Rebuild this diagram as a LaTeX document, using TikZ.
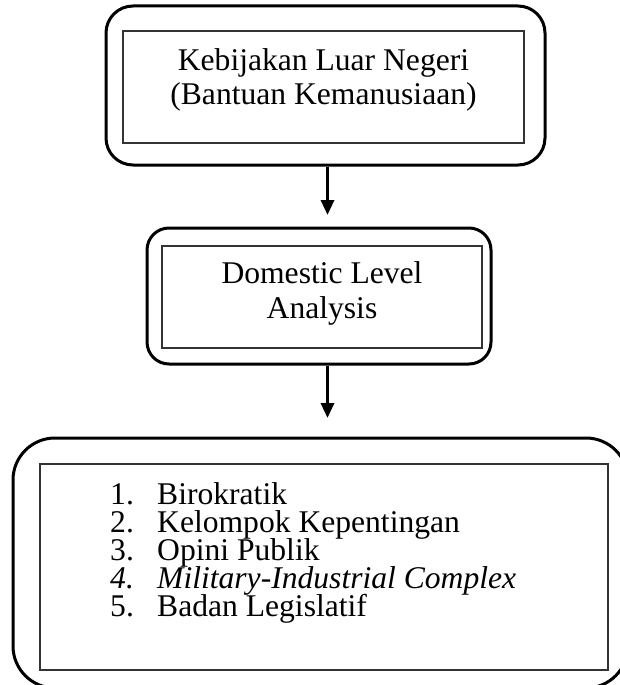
\documentclass[tikz,border=0pt]{standalone}
\usepackage{fontspec}
\setmainfont{Liberation Serif}
\usetikzlibrary{arrows.meta}

\newcommand{\jarak}{\hspace{23.3pt}}
\newcommand{\rapat}{\fontsize{31.6}{28}\selectfont\lineskiplimit=-100pt\relax}

\begin{document}
\begin{tikzpicture}[x=1pt,y=-1pt,
	every node/.style={inner sep=0pt,font=\fontsize{31.6}{33.5}\selectfont},
	outerbox/.style={draw,line width=3pt,rounded corners=#1},
	innerbox/.style={draw=black!80,line width=1.2pt},
	panah/.style={line width=3.2pt,-{Triangle[length=15pt,width=13pt]}}]
	\clip (0,0) rectangle (620,685);
	
	%outer rounded frames
	\node[outerbox=27pt,minimum width=439pt,minimum height=159pt] (luar) at (325.5,85.5) {};
	\node[outerbox=22pt,minimum width=344pt,minimum height=136pt] (domestik) at (319,296) {};
	\node[outerbox=42pt,minimum width=615pt,minimum height=250pt] (faktor) at (320.5,563) {};
	
	%inner boxes
	\node[innerbox,minimum width=401pt,minimum height=112pt] (luarIsi) at (323.5,87) {};
	\node[innerbox,minimum width=320pt,minimum height=102pt] (domestikIsi) at (322,297) {};
	\node[innerbox,minimum width=568pt,minimum height=206pt] (faktorIsi) at (324,567) {};
	
	%texts (base = last line)
	\node[anchor=base,align=center] (judul) at (323.5,104) {Kebijakan Luar Negeri\\(Bantuan Kemanusiaan)};
	\node[anchor=base,align=center,font=\fontsize{31.6}{35}\selectfont] (level) at (322,318) {Domestic Level\\Analysis};
	\node[anchor=base west,align=left,font=\rapat] (daftar) at (110,616) {%
		1.\jarak Birokratik\\
		2.\jarak Kelompok Kepentingan\\
		3.\jarak Opini Publik\\
		\itshape 4.\jarak Military-Industrial Complex\\
		5.\jarak Badan Legislatif};
	
	%arrows
	\coordinate (sumbu) at (327.5,0);
	\draw[panah,shorten >=11.5pt] (luar.south -| sumbu) -- (domestik.north -| sumbu);
	\draw[panah,shorten >=18.5pt] (domestik.south -| sumbu) -- (faktor.north -| sumbu);
\end{tikzpicture}
\end{document}
